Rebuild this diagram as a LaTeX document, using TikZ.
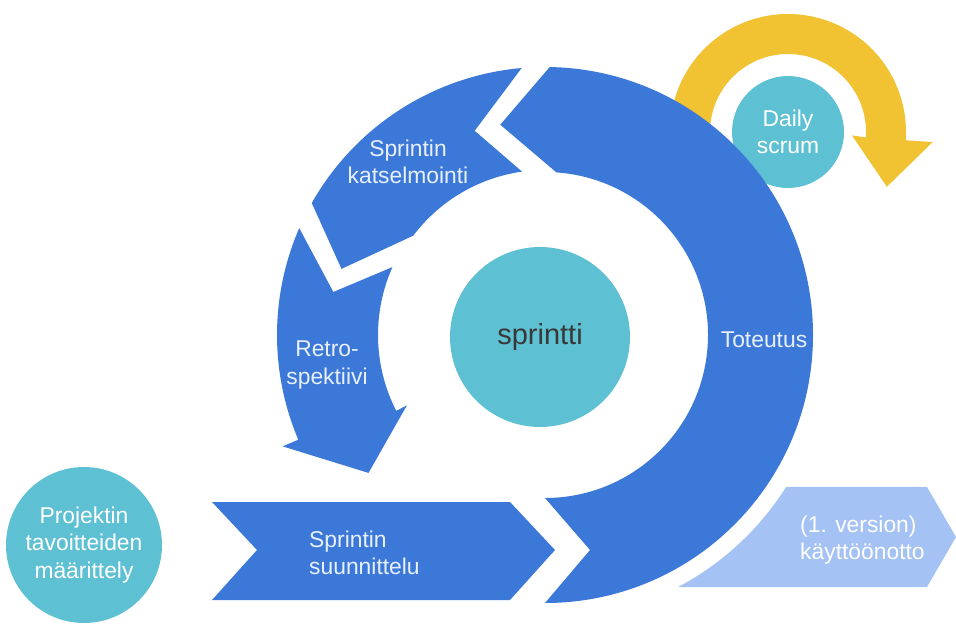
\documentclass[tikz,border=0pt]{standalone}
\usepackage{fontspec}
\setmainfont{Liberation Sans}
\usepackage{tikz}
\usetikzlibrary{calc}

\definecolor{ringblue}{HTML}{3C78D8}
\definecolor{paleblue}{HTML}{A4C2F4}
\definecolor{ballteal}{HTML}{5EC0D3}
\definecolor{scrumyellow}{HTML}{F1C232}
\definecolor{palefont}{HTML}{E8F0FD}

\tikzset{
	ringtext/.style={font=\fontsize{13}{15.5}\selectfont, text=palefont, align=center}
}
\tikzset{
	ball/.style={circle, fill=ballteal, inner sep=0pt, align=center,
		font=\fontsize{13}{15.5}\selectfont, text=white}
}

\begin{document}
\begin{tikzpicture}[x=0.02cm, y=0.02cm]
      \useasboundingbox (0,0) rectangle (956,630);
      % yellow loop round the daily scrum
      \begin{scope}[shift={(788,498)}]
        \fill[scrumyellow] (210:118) arc[start angle=210, end angle=-4, radius=118]
          -- (-4:145) -- (-29:113) -- (-3:64) -- (-4:78)
          arc[start angle=-4, end angle=210, radius=78] -- cycle;
        \node[ball, minimum size=2.24cm] (daily) at (0,0) {Daily\\scrum};
      \end{scope}
      % the sprint ring, three blue pieces
      \begin{scope}[shift={(545,295)}]
        % toteutus
        \fill[ringblue] (0,-163) -- (45,-215) -- (0,-268)
          arc[start angle=-90, end angle=89, radius=268]
          -- (102:215) -- (86:163)
          arc[start angle=86, end angle=-90, radius=163] -- cycle;
        % katselmointi
        \fill[ringblue] (95:268) -- (109:216) -- (98:165)
          arc[start angle=98, end angle=143, radius=165]
          -- (162:214) -- (150.5:268)
          arc[start angle=150.5, end angle=95, radius=268] -- cycle;
        % retrospektiivi with its head
        \fill[ringblue] (156.5:268) -- (168.5:216) -- (156:167)
          arc[start angle=156, end angle=207, radius=167]
          -- (207:155) -- (218:224) -- (203:285) -- (203:268)
          arc[start angle=203, end angle=156.5, radius=268] -- cycle;
        % kayttoonotto
        \fill[paleblue] (382,-152) -- (411,-202) -- (382,-252) -- (-62.2:285)
          arc[start angle=-62.2, end angle=-32.2, radius=285] -- cycle;
      \end{scope}
      % suunnittelu chevron
      \fill[ringblue] (212,128) -- (510,128) -- (555,80) -- (510,30) -- (212,30) -- (257,80) -- cycle;

      \node[ball, minimum size=3.6cm, font=\fontsize{16.5}{19}\selectfont, text=black!78] (sprintti) at (540,293) {sprintti};
      \node[ball, minimum size=3.12cm] (projektin) at (84,85) {Projektin\\tavoitteiden\\määrittely};

      \node[ringtext] (katselmointi) at (408,468) {Sprintin\\katselmointi};
      \node[ringtext] (retro) at (327,265) {Retro-\\spektiivi};
      \node[ringtext] (toteutus) at (764,290) {Toteutus};
      \node[ringtext, anchor=west, align=left] (suunnittelu) at (303,77) {Sprintin\\suunnittelu};
      \node[ringtext, anchor=west, align=left, text=white] (kayttoonotto) at (794,90) {(1. version)\\käyttöönotto};
    \end{tikzpicture}
\end{document}
